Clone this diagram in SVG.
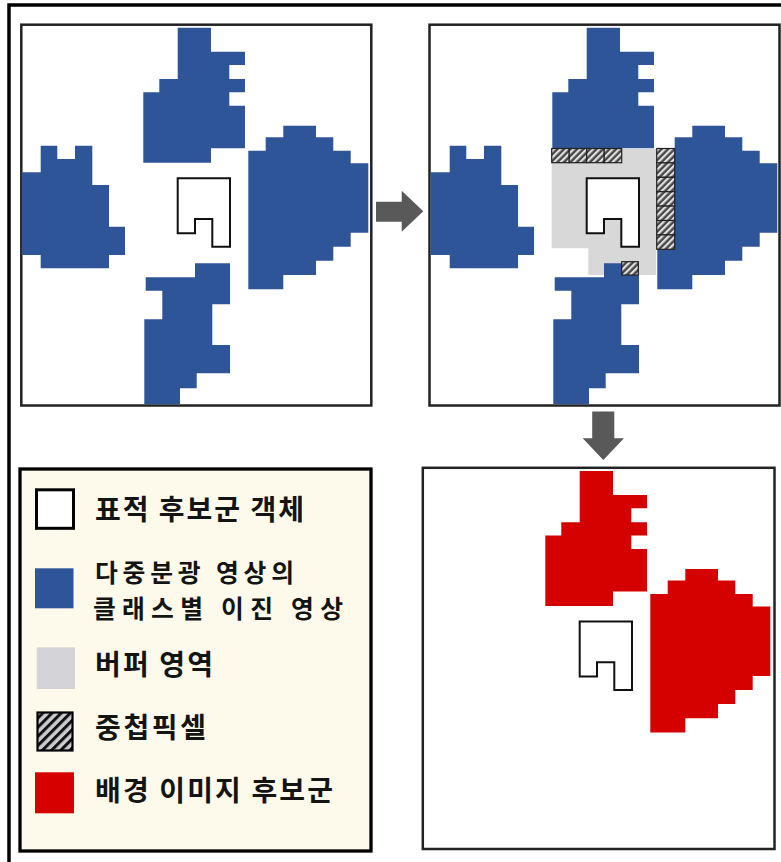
<svg xmlns="http://www.w3.org/2000/svg" xmlns:xlink="http://www.w3.org/1999/xlink" width="781" height="862" viewBox="0 0 781 862">
<style>
.panel{fill:#fff;stroke:#222;stroke-width:2.5}
.arrow{fill:#595959}
.target{fill:#fff;stroke:#111;stroke-width:2}
.cell{fill:url(#hs);stroke:#222;stroke-width:1.2}
.lbl{font-family:"Noto Sans CJK KR","Noto Sans",sans-serif;font-size:28px;font-weight:700;fill:#141414}
.lbl2{font-size:24.8px}
</style>
<defs>
<pattern id="hs" patternUnits="userSpaceOnUse" width="4.6" height="4.6" patternTransform="rotate(45)">
<rect width="4.6" height="4.6" fill="#474747"/><rect width="2.2" height="4.6" fill="#e2e2e2"/>
</pattern>
<pattern id="hl" patternUnits="userSpaceOnUse" width="6.5" height="6.5" patternTransform="rotate(45)">
<rect width="6.5" height="6.5" fill="#cbcbd0"/><rect width="3" height="6.5" fill="#111"/>
</pattern>
<path id="bTop" d="M177.7,27.7 H211 V51.7 H245 V65 H229.3 V79 H245 V92.3 H229.3 V105.7 H245 V148.3 H211 V162.7 H143.3 V92.3 H159.3 V79 H177.7 Z"/>
<path id="bLeft" d="M40.7,145.7 H57.3 V159 H75 V145.7 H92.3 V185 H109 V226.7 H125 V255 H109 V268.3 H40.7 V255 H21.7 V172.3 H40.7 Z"/>
<path id="bRight" d="M283.3,125.7 H316 V137.3 H333.3 V150.7 H350.7 V163.3 H368.3 V232.7 H350.7 V246.7 H333.3 V260.7 H316 V275 H283.3 V289.3 H248.3 V150.7 H265.7 V137.3 H283.3 Z"/>
<path id="bBottom" d="M195,263.3 H230 V304.3 H212.3 V345 H230 V373.3 H196.7 V388.3 H180 V404.3 H144.3 V319.3 H162.3 V290.7 H145.7 V277.3 H195 Z"/>
<path id="tgt" class="target" d="M177.7,178.3 H230 V246.7 H212.3 V219 H195 V233.3 H177.7 Z"/>
</defs>
<rect width="781" height="862" fill="#fff"/>
<rect x="9" y="5" width="790" height="880" fill="none" stroke="#000" stroke-width="3.5"/>

<g id="panel-input">
<rect class="panel" x="21.3" y="24.7" width="350" height="380.8"/>
<g fill="#2e5597">
<use xlink:href="#bTop"/><use xlink:href="#bLeft"/><use xlink:href="#bRight"/><use xlink:href="#bBottom"/>
</g>
<use xlink:href="#tgt"/>
</g>

<g id="panel-buffer">
<rect class="panel" x="429.5" y="24.7" width="350" height="380.8"/>
<g transform="translate(409,0)">
<path d="M142.7,149 H247 V275 H179.3 V248.3 H142.7 Z" fill="#d8d8d8"/>
<g fill="#2e5597">
<use xlink:href="#bTop"/><use xlink:href="#bLeft"/><use xlink:href="#bRight"/><use xlink:href="#bBottom"/>
</g>
<g>
<rect class="cell" x="142.7" y="148.5" width="17.5" height="14.2"/>
<rect class="cell" x="160.2" y="148.5" width="17.5" height="14.2"/>
<rect class="cell" x="177.7" y="148.5" width="17.5" height="14.2"/>
<rect class="cell" x="195.2" y="148.5" width="17.5" height="14.2"/>
<rect class="cell" x="247.7" y="148.5" width="18" height="14.4"/>
<rect class="cell" x="247.7" y="162.9" width="18" height="14.4"/>
<rect class="cell" x="247.7" y="177.3" width="18" height="14.4"/>
<rect class="cell" x="247.7" y="191.7" width="18" height="14.4"/>
<rect class="cell" x="247.7" y="206.1" width="18" height="14.4"/>
<rect class="cell" x="247.7" y="220.5" width="18" height="14.4"/>
<rect class="cell" x="247.7" y="234.9" width="18" height="14.4"/>
<rect class="cell" x="212.7" y="261.7" width="16.6" height="13.3"/>
</g>
<use xlink:href="#tgt"/>
</g>
</g>

<g id="panel-result">
<rect class="panel" x="422.8" y="467.8" width="351.7" height="381.2"/>
<g transform="translate(402,443.3)">
<g fill="#d50000"><use xlink:href="#bTop"/><use xlink:href="#bRight"/></g>
<use xlink:href="#tgt"/>
</g>
</g>

<g id="connectors">
<polygon class="arrow" points="376,201.7 401.7,201.7 401.7,190.7 423.3,211.2 401.7,231.7 401.7,221.7 376,221.7"/>
<polygon class="arrow" points="592.2,411.5 614.3,411.5 614.3,438.3 624,438.3 603.3,460 582.7,438.3 592.2,438.3"/>
</g>

<g id="legend">
<rect x="20" y="469" width="351" height="382" fill="#fdfaeb" stroke="#000" stroke-width="3.3"/>
<rect x="36.5" y="489.8" width="37" height="38.5" fill="#fff" stroke="#000" stroke-width="3"/>
<rect x="35" y="568.3" width="38.5" height="40" fill="#2e5597"/>
<rect x="36.7" y="647.3" width="38.3" height="41.7" fill="#d4d4d8"/>
<rect x="37.5" y="712.5" width="35" height="38" fill="url(#hl)" stroke="#000" stroke-width="2.2"/>
<rect x="35" y="772.3" width="39" height="41" fill="#d70000"/>
<text class="lbl" x="95" y="520" textLength="209" lengthAdjust="spacing">표적 후보군 객체</text>
<text class="lbl lbl2" x="95" y="582" textLength="199" lengthAdjust="spacing">다중분광 영상의</text>
<text class="lbl lbl2" x="93" y="618" textLength="250" lengthAdjust="spacing">클래스별 이진 영상</text>
<text class="lbl" x="95" y="675" textLength="118" lengthAdjust="spacing">버퍼 영역</text>
<text class="lbl" x="95" y="738" textLength="111" lengthAdjust="spacing">중첩픽셀</text>
<text class="lbl" x="95" y="801" textLength="238" lengthAdjust="spacing">배경 이미지 후보군</text>
</g>
</svg>
